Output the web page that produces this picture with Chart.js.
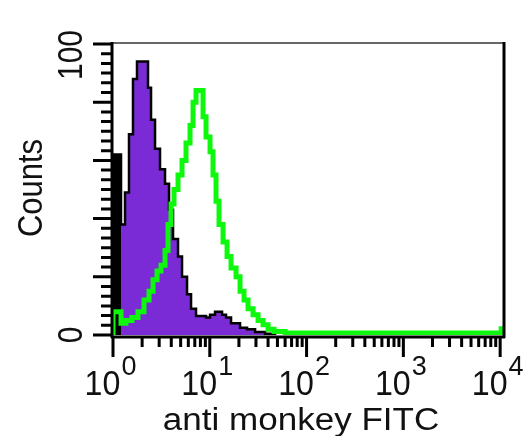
<!DOCTYPE html>
<html>
<head>
<meta charset="utf-8">
<script src="https://cdn.jsdelivr.net/npm/chart.js@4.4.1/dist/chart.umd.min.js"></script>
<style>
  body { margin: 0; background: #fff; }
  canvas { display: block; }
</style>
</head>
<body>
<canvas id="histChart" width="529" height="436"></canvas>
<script>
// green = stained sample (outline only), purple = isotype control (filled)
var greenX = [1, 1, 1.21, 1.362, 1.572, 1.813, 2.091, 2.356, 2.591, 2.85, 3.134, 3.447, 3.703, 3.977, 4.271, 4.697, 5.166, 5.681, 6.25, 6.713, 7.209, 8.516, 9.147, 10.06, 10.8, 11.6, 12.46, 13.71, 15.08, 16.58, 18.68, 20.54, 22.59, 24.85, 27.99, 31.53, 35.51, 40.01, 46.14, 59.96, 10000, 10240];
var greenY = [0, 8, 4, 5, 6, 8, 12, 15, 19, 22, 24, 29, 38, 45, 50, 55, 60, 66, 72, 80, 84, 75, 68, 63, 55, 46, 38, 32, 27, 23, 20, 15, 12, 9, 7, 5, 3.5, 2, 1.2, 0.7, 0.7, 3];

var purpleX = [1, 1.21, 1.331, 1.463, 1.609, 1.77, 2.3, 2.471, 2.718, 3.06, 3.447, 3.792, 4.171, 4.697, 5.166, 5.819, 6.401, 7.209, 9.147, 10.06, 11.33, 13.39, 14.72, 16.58, 20.54, 24.27, 29.36, 37.25, 47.24];
var purpleY = [62, 38, 49, 69, 88, 94, 85, 74, 64, 57, 52, 43, 33, 27, 20, 14, 9, 6.5, 6, 7, 8, 7, 6, 4, 2.5, 2, 1, 0.4, 0];

// first channel pile-up (solid black column)
var firstX = [1, 1.21];
var firstY = [62, 62];

var xTickValues = [1, 10, 100, 1000, 10000];
var xTickExp = ['0', '1', '2', '3', '4'];
var yTickValues = [0, 100];
var yTickLabels = ['0', '100'];

function toPoints(xs, ys) {
    var pts = [];
    for (var i = 0; i < xs.length; i++) {
        pts.push({ x: xs[i], y: ys[i] });
    }
    return pts;
}

var axesPlugin = {
    id: 'flowAxes',
    afterDraw: function(chart) {
        var ctx = chart.ctx;
        var area = chart.chartArea;
        var xs = chart.scales.x;
        var ys = chart.scales.y;
        var axisY = area.bottom + 2;
        var axisX = area.left - 1;

        ctx.save();
        // frame
        ctx.strokeStyle = '#333';
        ctx.lineWidth = 1.5;
        ctx.beginPath();
        ctx.moveTo(area.left, area.top - 1);
        ctx.lineTo(area.right, area.top - 1);
        ctx.stroke();

        ctx.strokeStyle = '#000';
        ctx.lineWidth = 3;
        ctx.beginPath();
        ctx.moveTo(area.right + 1, area.top - 2);
        ctx.lineTo(area.right + 1, axisY + 1);
        ctx.moveTo(axisX, area.top - 2);
        ctx.lineTo(axisX, axisY + 1);
        ctx.moveTo(axisX - 1, axisY);
        ctx.lineTo(area.right + 2, axisY);
        ctx.stroke();

        // x ticks (log decades + minors)
        ctx.lineWidth = 3;
        ctx.beginPath();
        for (var d = 0; d < xTickValues.length; d++) {
            var base = xTickValues[d];
            var px = xs.getPixelForValue(base);
            ctx.moveTo(px, axisY);
            ctx.lineTo(px, axisY + 20);
            if (d < xTickValues.length - 1) {
                for (var m = 2; m <= 9; m++) {
                    var pm = xs.getPixelForValue(base * m);
                    ctx.moveTo(pm, axisY);
                    ctx.lineTo(pm, axisY + 10);
                }
            }
        }
        // y ticks
        for (var v = 0; v <= 100; v += 20) {
            var py = ys.getPixelForValue(v);
            ctx.moveTo(axisX, py);
            ctx.lineTo(axisX - 19, py);
            if (v < 100) {
                for (var k = 1; k < 6; k++) {
                    var pk = ys.getPixelForValue(v + k * 20 / 6);
                    ctx.moveTo(axisX, pk);
                    ctx.lineTo(axisX - 11, pk);
                }
            }
        }
        ctx.stroke();

        ctx.fillStyle = '#111';
        // x tick labels 10^n
        ctx.textBaseline = 'alphabetic';
        for (var i = 0; i < xTickValues.length; i++) {
            var cx = xs.getPixelForValue(xTickValues[i]) - 3;
            ctx.font = '35px "Liberation Sans", Arial, sans-serif';
            var wBase = ctx.measureText('10').width * 0.92;
            ctx.font = '27px "Liberation Sans", Arial, sans-serif';
            var wExp = ctx.measureText(xTickExp[i]).width;
            var left = cx - (wBase + wExp) / 2;
            ctx.save();
            ctx.translate(left, 395);
            ctx.scale(0.92, 1);
            ctx.font = '35px "Liberation Sans", Arial, sans-serif';
            ctx.textAlign = 'left';
            ctx.fillText('10', 0, 0);
            ctx.restore();
            ctx.font = '27px "Liberation Sans", Arial, sans-serif';
            ctx.textAlign = 'left';
            ctx.fillText(xTickExp[i], left + wBase + 1, 375);
        }

        // y tick labels (rotated)
        for (var j = 0; j < yTickValues.length; j++) {
            var ty = ys.getPixelForValue(yTickValues[j]);
            if (yTickValues[j] === 100) ty += 11;
            ctx.save();
            ctx.translate(82, ty);
            ctx.rotate(-Math.PI / 2);
            ctx.scale(1, 1.15);
            ctx.font = '30px "Liberation Sans", Arial, sans-serif';
            ctx.textAlign = 'center';
            ctx.fillText(yTickLabels[j], 0, 0);
            ctx.restore();
        }

        // axis titles
        ctx.save();
        ctx.translate(301, 430);
        ctx.scale(1.13, 1);
        ctx.font = '31px "Liberation Sans", Arial, sans-serif';
        ctx.textAlign = 'center';
        ctx.fillText('anti monkey FITC', 0, 0);
        ctx.restore();

        ctx.save();
        ctx.translate(42, 188);
        ctx.rotate(-Math.PI / 2);
        ctx.scale(1, 1.15);
        ctx.font = '31px "Liberation Sans", Arial, sans-serif';
        ctx.textAlign = 'center';
        ctx.fillText('Counts', 0, 0);
        ctx.restore();

        ctx.restore();
    }
};

var ctx = document.getElementById('histChart');
var chart = new Chart(ctx, {
    type: 'line',
    data: {
        datasets: [{
            label: 'anti monkey FITC',
            data: toPoints(greenX, greenY),
            borderColor: '#0ef80e',
            borderWidth: 5,
            fill: false,
            stepped: true,
            pointRadius: 0
        },
        {
            label: 'first channel',
            data: toPoints(firstX, firstY),
            borderColor: '#000',
            backgroundColor: '#000',
            borderWidth: 1,
            fill: 'origin',
            stepped: true,
            pointRadius: 0
        },
        {
            label: 'isotype control',
            data: toPoints(purpleX, purpleY),
            borderColor: '#000',
            backgroundColor: '#7a2bd5',
            borderWidth: 2.5,
            fill: 'origin',
            stepped: true,
            pointRadius: 0
        }]
    },
    options: {
        responsive: false,
        animation: false,
        devicePixelRatio: 1,
        layout: {
            padding: { left: 113, right: 26, top: 44, bottom: 101 }
        },
        plugins: {
            legend: { display: false },
            tooltip: { enabled: false }
        },
        scales: {
            x: {
                type: 'logarithmic',
                min: 1,
                max: 10700,
                display: false
            },
            y: {
                type: 'linear',
                min: 0,
                max: 100,
                display: false
            }
        }
    },
    plugins: [axesPlugin]
});
</script>
</body>
</html>
